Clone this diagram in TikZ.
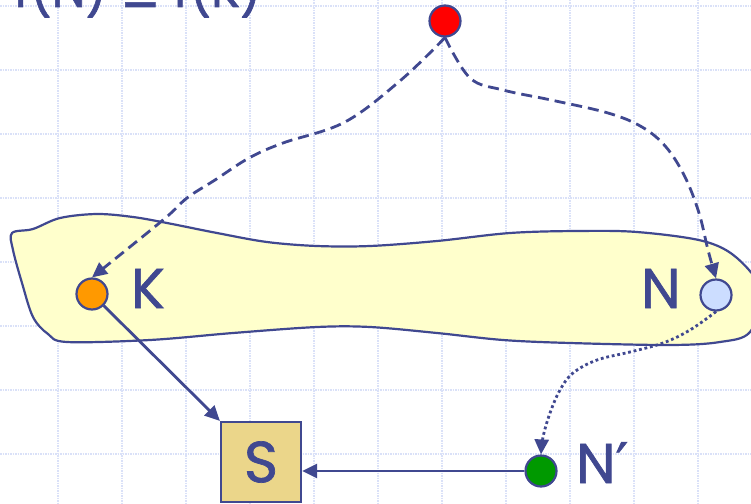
\documentclass[tikz,border=0pt]{standalone}
\usepackage{fontspec}
\setmainfont{Poppins}
\newfontfamily\labfont{Poppins}[FakeBold=1.2]
\newfontfamily\djv{DejaVu Sans}[FakeBold=1.2]
\usetikzlibrary{arrows.meta}
\definecolor{ink}{HTML}{404890}
\definecolor{gridc}{HTML}{DAE1F8}
\definecolor{blobfill}{HTML}{FFFFCC}
\definecolor{dotred}{HTML}{FF0000}
\definecolor{dotorange}{HTML}{FF9900}
\definecolor{dotblue}{HTML}{CCDDFF}
\definecolor{dotgreen}{HTML}{009900}
\definecolor{sfill}{HTML}{EBD68A}
\begin{document}
\begin{tikzpicture}[x=1pt,y=-1pt,
  gridline/.style={draw=gridc, line width=1.6pt, dash pattern=on 1.5pt off 1pt},
  dotnode/.style={circle, draw=ink, line width=2.2pt, minimum size=31pt, inner sep=0pt},
  lab/.style={text=ink, font=\labfont\fontsize{56}{60}\selectfont, inner sep=0pt},
  tip/.style={-{Triangle[length=15pt,width=14pt]}},
  conn/.style={draw=ink, line width=2.8pt, tip},
  dashconn/.style={conn, dash pattern=on 11pt off 6pt},
  dotconn/.style={conn, dash pattern=on 2.8pt off 2.8pt}]
\useasboundingbox (0,0) rectangle (751,503);
\clip (0,0) rectangle (751,503);
\fill[white] (0,0) rectangle (751,503);
% grid
\foreach \x in {-6,58,...,698} \draw[gridline] (\x,0) -- (\x,503);
\foreach \y in {6,70,...,454} \draw[gridline] (0,\y) -- (751,\y);
% title (cut off at top)
\node[lab, anchor=base east, xscale=0.86] (title) at (262,7) {f(N) {\djv ≥} f(K)};
% blob
\draw[ink, line width=2.2pt, fill=blobfill] plot[smooth cycle, tension=0.55] coordinates {
  (12,233) (33,229) (60,218) (97,214) (133,217) (167,223) (217,233) (267,242)
  (317,246) (370,246) (437,241) (510,233) (577,231) (637,232) (703,241) (737,258)
  (762,292) (750,332) (720,342) (670,345) (570,343) (503,340) (437,333) (370,327)
  (317,327) (233,333) (150,340) (67,342) (48,334) (33,317) (22,283) (13,250)};
% nodes
\node[dotnode, fill=dotred] (top) at (445,21) {};
\node[dotnode, fill=dotorange] (K) at (92,294) {};
\node[dotnode, fill=dotblue] (N) at (716,295) {};
\node[dotnode, fill=dotgreen] (Np) at (541,471) {};
\node[draw=ink, line width=2.2pt, fill=sfill, minimum size=80pt, inner sep=0pt,
      text=ink, font=\labfont\fontsize{58}{60}\selectfont] (S) at (261,462) {S};
% labels
\node[lab, anchor=base west] (Kl) at (131,308) {K};
\node[lab, anchor=base west] (Nl) at (641,308) {N};
\node[lab, anchor=base west] (Npl) at (576,483) {N{\djv ′}};
% connectors
\draw[dashconn] plot[smooth, tension=0.6] coordinates {
  (top.south) (401,80) (345,122) (283,143) (249,158) (215,180) (187,198) (163,220) (K.north)};
\draw[dashconn] plot[smooth, tension=0.6] coordinates {
  (top.south) (470,78) (503,90) (551,100) (608,113) (642,127) (666,147) (685,177) (699,213) (708,250) (N.north)};
\draw[dotconn] plot[smooth, tension=0.6] coordinates {
  (N.south) (690,330) (663,343) (630,352) (597,360) (573,373) (560,390) (550,413) (543,437) (Np.north)};
\draw[conn] (K) -- (S.north west);
\draw[conn] (Np.west) -- (S.east |- Np.west);
\end{tikzpicture}
\end{document}
